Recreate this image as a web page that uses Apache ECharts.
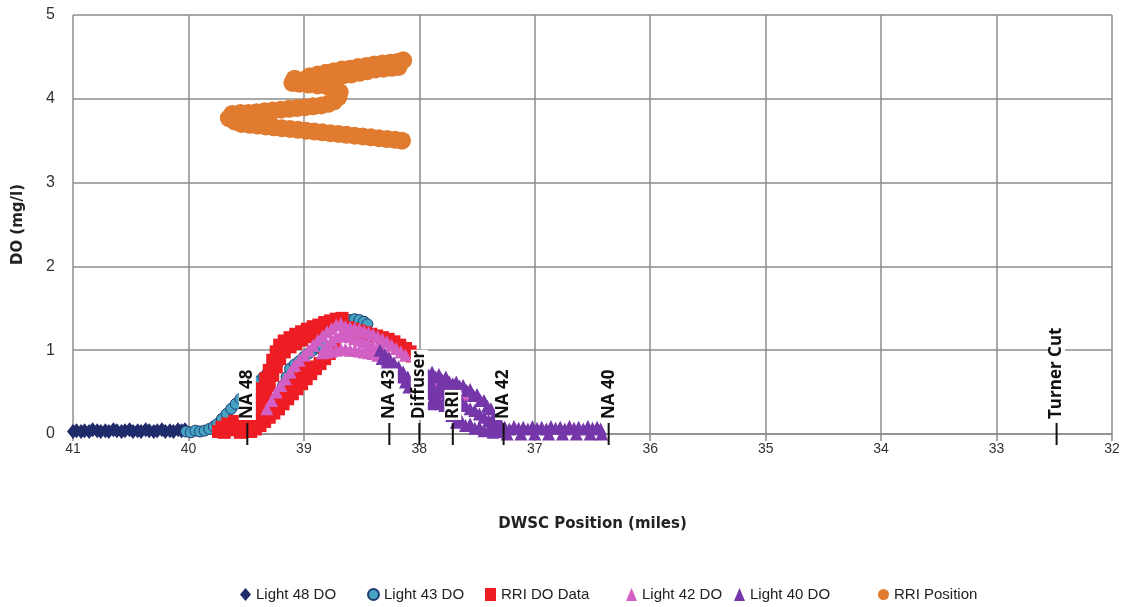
<!DOCTYPE html>
<html>
<head>
<meta charset="utf-8">
<title>DO along the DWSC</title>
<script src="https://cdn.jsdelivr.net/npm/echarts@6/dist/echarts.min.js"></script>
<style>
  html, body { margin: 0; padding: 0; background: #ffffff; }
  #chart { width: 1125px; height: 607px; }
</style>
</head>
<body>
<div id="chart"></div>
<script>
// Axis extents (miles along the channel, DO in mg/l)
const xRange = [32, 41];
const yRange = [0, 5];

// [position (miles), DO (mg/l)]
const light48 = [
  [41.00,0.03],[40.97,0.04],[40.93,0.03],[40.90,0.04],[40.86,0.03],[40.83,0.05],[40.79,0.04],
  [40.76,0.03],[40.72,0.04],[40.69,0.03],[40.65,0.05],[40.62,0.04],[40.58,0.03],[40.55,0.04],
  [40.51,0.05],[40.48,0.03],[40.44,0.04],[40.41,0.03],[40.37,0.05],[40.34,0.04],[40.30,0.03],
  [40.27,0.04],[40.23,0.05],[40.20,0.03],[40.16,0.04],[40.13,0.03],[40.09,0.05],[40.06,0.04],[40.03,0.05]
];

const light43 = [
  [40.02,0.03],[39.98,0.02],[39.94,0.04],[39.90,0.03],[39.86,0.04],[39.82,0.06],[39.78,0.09],
  [39.75,0.12],[39.71,0.18],[39.67,0.24],[39.63,0.30],[39.59,0.36],[39.55,0.42],[39.51,0.48],
  [39.47,0.53],[39.43,0.58],[39.39,0.63],[39.35,0.68],[39.31,0.74],[39.27,0.79],[39.23,0.83],
  [39.36,0.26],[39.32,0.30],[39.28,0.35],[39.24,0.40],[39.21,0.48],[39.18,0.58],[39.15,0.68],
  [39.12,0.78],[39.08,0.83],[39.04,0.87],[39.00,0.92],[38.96,0.96],[38.92,1.00],[38.88,1.03],[38.84,1.06],
  [38.64,1.33],[38.60,1.36],[38.56,1.37],[38.52,1.36],[38.48,1.34],[38.45,1.31]
];

const rriDO = [
  [39.74,0.03],[39.71,0.08],[39.69,0.02],[39.66,0.12],[39.63,0.05],[39.60,0.15],[39.57,0.07],
  [39.55,0.02],[39.52,0.10],[39.49,0.04],[39.47,0.16],
  [39.45,0.20],[39.42,0.30],[39.39,0.42],[39.36,0.54],[39.33,0.66],[39.30,0.76],[39.27,0.88],
  [39.24,0.98],[39.21,1.06],[39.17,1.11],[39.12,1.15],[39.07,1.19],[39.02,1.22],[38.97,1.25],
  [38.92,1.28],[38.87,1.30],[38.82,1.33],[38.77,1.35],[38.72,1.37],[38.67,1.38],
  [39.42,0.12],[39.39,0.24],[39.36,0.36],[39.33,0.48],[39.30,0.58],[39.27,0.70],[39.24,0.80],
  [39.21,0.90],[39.17,0.98],[39.12,1.04],[39.07,1.08],[39.02,1.12],[38.97,1.16],[38.92,1.19],[38.87,1.22],
  [39.46,0.03],[39.42,0.06],[39.38,0.10],[39.34,0.15],[39.30,0.20],[39.26,0.25],[39.22,0.30],
  [39.18,0.36],[39.14,0.42],[39.10,0.48],[39.06,0.54],[39.02,0.60],[38.98,0.66],[38.94,0.72],
  [38.90,0.78],[38.86,0.84],[38.82,0.90],[38.78,0.96],[38.74,1.02],
  [39.40,0.16],[39.35,0.22],[39.30,0.30],[39.25,0.36],[39.20,0.42],[39.15,0.50],[39.10,0.58],
  [39.05,0.66],[39.00,0.74],[38.95,0.80],
  [38.62,1.27],[38.57,1.25],[38.52,1.23],[38.47,1.21],[38.42,1.19],[38.37,1.17],[38.32,1.15],
  [38.27,1.13],[38.22,1.10],[38.17,1.06],[38.12,1.02],[38.08,0.98],[38.06,0.93]
];

const light42 = [
  [39.32,0.30],[39.28,0.40],[39.24,0.50],[39.20,0.58],[39.16,0.66],[39.12,0.74],[39.08,0.82],
  [39.04,0.88],[39.00,0.94],[38.96,1.00],[38.92,1.06],[38.88,1.12],[38.84,1.17],[38.80,1.22],
  [38.76,1.26],[38.72,1.30],
  [38.68,1.32],[38.64,1.28],[38.60,1.27],[38.56,1.26],[38.52,1.25],[38.48,1.23],[38.44,1.21],
  [38.40,1.19],[38.36,1.16],[38.32,1.13],[38.28,1.10],[38.24,1.06],[38.20,1.02],[38.16,0.98],[38.12,0.94],
  [38.80,1.06],[38.76,1.12],[38.72,1.16],[38.68,1.18],[38.64,1.17],[38.60,1.16],[38.56,1.14],
  [38.52,1.12],[38.48,1.10],[38.44,1.08],[38.40,1.05],[38.36,1.02],[38.32,0.99],[38.28,0.96],
  [38.84,0.97],[38.80,0.98],[38.76,0.99],[38.72,1.00],[38.68,1.01],[38.64,1.01],[38.60,1.00],
  [38.56,1.00],[38.52,0.99],[38.48,0.98],[38.44,0.97],[38.40,0.96],[38.36,0.94],[38.32,0.91],[38.28,0.88],
  [37.93,0.70],[37.90,0.60],[37.86,0.55],[37.83,0.62],[37.80,0.42],[37.62,0.38],[37.58,0.46]
];

const light40 = [
  [38.34,1.00],[38.32,0.90],[38.30,0.95],[38.28,0.85],[38.26,0.90],[38.24,0.80],[38.22,0.85],
  [38.20,0.74],[38.18,0.80],[38.16,0.68],[38.14,0.74],[38.12,0.62],[38.10,0.68],[38.09,0.56],[38.07,0.62],
  [37.95,0.76],[37.92,0.70],[37.89,0.74],[37.86,0.68],[37.83,0.71],[37.80,0.64],[37.77,0.68],[37.74,0.62],
  [37.94,0.56],[37.91,0.48],[37.88,0.42],[37.85,0.38],[37.92,0.62],[37.88,0.56],[37.84,0.50],
  [37.80,0.52],[37.76,0.46],[37.82,0.36],[37.96,0.66],[37.93,0.50],[37.90,0.36],[37.86,0.46],
  [37.80,0.58],[37.78,0.34],[37.75,0.52],
  [37.71,0.60],[37.68,0.62],[37.65,0.57],[37.62,0.58],[37.59,0.52],[37.56,0.53],[37.53,0.46],
  [37.50,0.47],[37.47,0.40],[37.44,0.40],[37.41,0.33],[37.38,0.30],[37.35,0.22],[37.32,0.16],[37.29,0.10],
  [37.72,0.40],[37.68,0.36],[37.64,0.40],[37.60,0.34],[37.56,0.30],[37.52,0.28],[37.48,0.24],
  [37.44,0.20],[37.40,0.16],[37.36,0.10],
  [37.72,0.22],[37.68,0.14],[37.64,0.17],[37.60,0.10],[37.56,0.12],[37.52,0.07],[37.48,0.08],
  [37.44,0.04],[37.40,0.05],[37.36,0.02],[37.32,0.03],
  [37.26,0.08],[37.22,0.06],[37.18,0.09],[37.14,0.07],[37.10,0.08],[37.06,0.06],[37.02,0.09],
  [36.98,0.07],[36.94,0.08],[36.90,0.06],[36.86,0.09],[36.82,0.07],[36.78,0.08],[36.74,0.06],
  [36.70,0.09],[36.66,0.07],[36.62,0.08],[36.58,0.06],[36.54,0.09],[36.50,0.07],[36.46,0.08],[36.43,0.06],
  [37.24,0.00],[37.18,-0.01],[37.12,0.00],[37.06,-0.01],[37.00,0.00],[36.94,-0.01],[36.88,0.00],
  [36.82,-0.01],[36.76,0.00],[36.70,-0.01],[36.64,0.00],[36.58,-0.01],[36.52,0.00],[36.46,-0.01],[36.42,0.00]
];

const rriPosition = [
  [38.15,3.50],[38.21,3.51],[38.28,3.52],[38.35,3.53],[38.42,3.54],[38.49,3.55],[38.56,3.56],
  [38.63,3.57],[38.70,3.58],[38.77,3.59],[38.84,3.60],[38.91,3.61],[38.98,3.62],[39.05,3.63],
  [39.12,3.64],[39.19,3.65],[39.26,3.66],[39.33,3.67],[39.40,3.68],[39.47,3.69],[39.54,3.70],
  [39.60,3.73],[39.65,3.77],
  [39.62,3.82],[39.55,3.83],[39.48,3.83],[39.41,3.84],[39.34,3.85],[39.27,3.86],[39.20,3.87],
  [39.13,3.88],[39.06,3.89],[38.99,3.90],[38.92,3.91],[38.85,3.92],[38.79,3.94],[38.74,3.97],
  [38.70,4.02],[38.69,4.08],[38.73,4.13],[38.80,4.15],[38.88,4.16],[38.96,4.17],[39.04,4.18],[39.10,4.19],
  [39.08,4.24],[39.01,4.22],[38.94,4.23],[38.87,4.25],[38.80,4.26],[38.73,4.27],[38.66,4.28],
  [38.59,4.29],[38.52,4.31],[38.45,4.33],[38.38,4.35],[38.31,4.36],[38.24,4.37],[38.18,4.38],
  [38.95,4.27],[38.88,4.29],[38.81,4.31],[38.74,4.33],[38.67,4.35],[38.60,4.36],[38.53,4.38],
  [38.46,4.39],[38.39,4.41],[38.32,4.42],[38.25,4.43],[38.19,4.44],[38.14,4.46]
];

// Reference points along the channel drawn as labelled ticks on the axis
const siteNames = ['NA 48', 'NA 43', 'Diffuser', 'RRI', 'NA 42', 'NA 40', 'Turner Cut'];
const sitePositions = [39.49, 38.26, 38.00, 37.71, 37.27, 36.36, 32.48];

const seriesNames = ['Light 48 DO', 'Light 43 DO', 'RRI DO Data', 'Light 42 DO', 'Light 40 DO', 'RRI Position'];
// left edge of each legend entry
const legendLefts = [235, 362, 480, 621, 729, 873];

const chart = echarts.init(document.getElementById('chart'), null, { renderer: 'canvas' });

const gridColor = '#8c8c8c';
const narrow = '"Liberation Sans Narrow", "Liberation Sans", Arial, sans-serif';

function scatter(name, data, symbol, size, style) {
  return {
    name: name,
    type: 'scatter',
    data: data,
    symbol: symbol,
    symbolSize: size,
    itemStyle: Object.assign({ opacity: 1 }, style),
    emphasis: { disabled: true },
    silent: true
  };
}

const option = {
  animation: false,
  backgroundColor: '#ffffff',
  grid: { left: 73, right: 13, top: 15, bottom: 173 },
  legend: seriesNames.map(function (name, i) {
    return {
      data: [name],
      top: 582,
      left: legendLefts[i],
      itemWidth: 11,
      itemHeight: 13,
      itemGap: 0,
      selectedMode: false,
      textStyle: { fontFamily: narrow, fontSize: 15, color: '#222' }
    };
  }),
  xAxis: {
    type: 'value',
    min: xRange[0],
    max: xRange[1],
    interval: 1,
    inverse: true,
    name: 'DWSC Position (miles)',
    nameLocation: 'middle',
    nameGap: 83,
    nameTextStyle: { fontFamily: '"DejaVu Sans", sans-serif', fontWeight: 'bold', fontSize: 15, color: '#222' },
    axisLine: { show: true, onZero: false, lineStyle: { color: gridColor, width: 1.5 } },
    axisTick: { show: true, length: 7, lineStyle: { color: gridColor, width: 1.5 } },
    axisLabel: { margin: 8, fontFamily: narrow, fontSize: 14, color: '#333' },
    splitLine: { show: true, lineStyle: { color: gridColor, width: 1.5 } }
  },
  yAxis: {
    type: 'value',
    min: yRange[0],
    max: yRange[1],
    interval: 1,
    name: 'DO (mg/l)',
    nameLocation: 'middle',
    nameRotate: 90,
    nameGap: 47,
    nameTextStyle: { fontFamily: '"DejaVu Sans", sans-serif', fontWeight: 'bold', fontSize: 15, color: '#222' },
    axisLine: { show: false },
    axisTick: { show: false },
    axisLabel: { margin: 18, fontFamily: narrow, fontSize: 16, color: '#333' },
    splitLine: { show: true, lineStyle: { color: gridColor, width: 1.5 } }
  },
  series: [
    scatter('Light 48 DO', light48, 'diamond', [12, 15], { color: '#1f2b6b' }),
    scatter('Light 43 DO', light43, 'circle', 11, { color: '#46a3c1', borderColor: '#1f3d72', borderWidth: 1 }),
    scatter('RRI DO Data', rriDO, 'rect', 13, { color: '#ee1d24' }),
    scatter('Light 42 DO', light42, 'triangle', 13, { color: '#d260c4' }),
    scatter('Light 40 DO', light40, 'triangle', 13, { color: '#7436a8' }),
    scatter('RRI Position', rriPosition, 'circle', 18, { color: '#e07b2f' }),
    {
      name: 'sites',
      type: 'custom',
      data: sitePositions.map(function (p) { return [p, 0]; }),
      z: 10,
      silent: true,
      clip: false,
      renderItem: function (params, api) {
        const pt = api.coord([api.value(0), 0]);
        return {
          type: 'group',
          children: [
            {
              type: 'line',
              shape: { x1: pt[0], y1: pt[1] - 11, x2: pt[0], y2: pt[1] + 11 },
              style: { stroke: '#111111', lineWidth: 2 }
            },
            {
              type: 'text',
              x: pt[0],
              y: pt[1] - 14,
              rotation: Math.PI / 2,
              style: {
                text: siteNames[params.dataIndex],
                fontFamily: '"Open Sans", sans-serif',
                fontWeight: 'bold',
                fontSize: 17,
                fill: '#111111',
                align: 'left',
                verticalAlign: 'middle',
                backgroundColor: '#ffffff',
                padding: [0, 1, 0, 1]
              }
            }
          ]
        };
      }
    }
  ]
};

chart.setOption(option);
</script>
</body>
</html>
